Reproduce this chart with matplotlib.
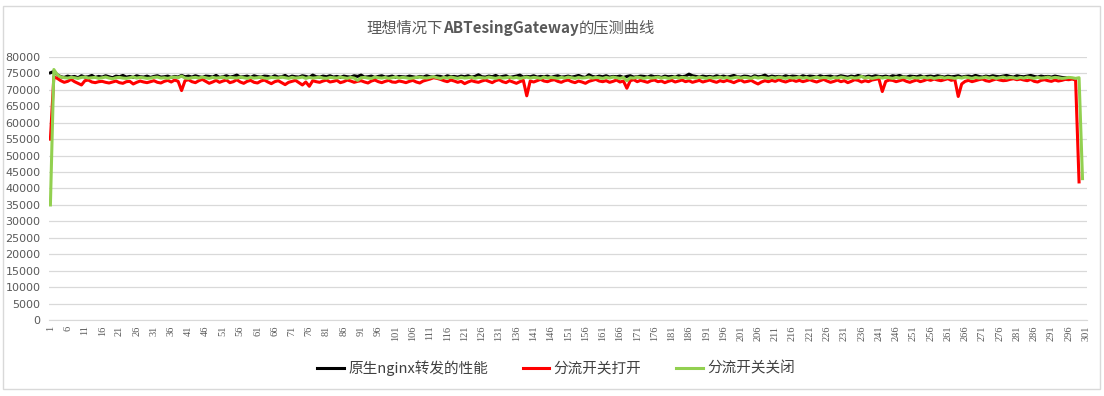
import numpy as np
import matplotlib
matplotlib.use("Agg")
import matplotlib.pyplot as plt
from matplotlib.patches import Rectangle

plt.rcParams['font.family'] = ['Noto Sans CJK SC', 'DejaVu Sans']

# données (requêtes/s)
nginx = [
    75200, 75600, 74600, 74000, 73800, 74200, 73900, 74100, 73700, 74300, 73900, 74000, 74400, 73800, 74100, 73900, 74300, 74000, 73700, 74200,
    74000, 74400, 73900, 74100, 73800, 74300, 74000, 73900, 74200, 73800, 74100, 74300, 73900, 74000, 74200, 73800, 74100, 73900, 74400, 74000,
    74200, 73900, 74300, 74000, 73800, 74200, 74100, 73900, 74400, 73800, 74000, 74300, 73900, 74100, 74500, 73900, 74000, 74200, 73800, 74300,
    74000, 73900, 74200, 74100, 73800, 74300, 73900, 74000, 74400, 73800, 74200, 74000, 73900, 74300, 74100, 73800, 74500, 74000, 73900, 74200,
    74000, 74300, 73900, 74100, 73800, 74200, 74000, 73900, 74300, 74100, 74500, 73900, 74000, 74200, 73800, 74100, 74300, 73900, 74000, 74200,
    73800, 74100, 74000, 73900, 74200, 74000, 73800, 74100, 73900, 74300, 74000, 73900, 74200, 74100, 73800, 74300, 74000, 74100, 73900, 74200,
    74000, 74300, 73900, 74100, 74600, 74000, 73900, 74200, 74000, 74400, 73900, 74100, 74300, 73800, 74000, 74200, 74500, 73900, 74100, 74000,
    74300, 73900, 74100, 74000, 74200, 73800, 74100, 74300, 73900, 74000, 74200, 73900, 74100, 74400, 74000, 73800, 74600, 74100, 73900, 74200,
    74000, 74300, 73900, 74100, 74000, 74200, 73800, 74100, 74300, 73900, 74000, 74200, 74100, 73900, 74300, 74000, 74100, 73800, 74200, 74000,
    74100, 73900, 74300, 74000, 74200, 74800, 74300, 74100, 73900, 74200, 74000, 74100, 73900, 74300, 74000, 74200, 73900, 74100, 74400, 74000,
    73900, 74200, 74100, 73800, 74300, 74000, 74100, 74500, 73900, 74200, 74000, 74100, 73900, 74300, 74000, 74200, 74100, 73900, 74300, 74000,
    74200, 74100, 73900, 74300, 74000, 74100, 74200, 73900, 74000, 74300, 74100, 73900, 74200, 74000, 74400, 74100, 73900, 74200, 74000, 74300,
    74100, 74000, 74200, 73900, 74300, 74100, 74400, 74000, 73900, 74200, 74100, 74000, 74300, 73900, 74100, 74200, 74000, 74300, 74100, 73900,
    74200, 74000, 74100, 74300, 73900, 74100, 74200, 74000, 74400, 74100, 73900, 74200, 74000, 74300, 74100, 74000, 74200, 74400, 74100, 73900,
    74300, 74100, 74000, 74200, 74400, 74100, 73900, 74200, 74000, 74100, 73900, 74200, 74000, 73800, 73700, 73500,
]

ouvert = [
    55000, 74000, 73500, 72800, 72300, 72600, 73200, 72500, 72000, 71500, 72800, 73000, 72400, 72200, 72500, 72600, 72300, 72100, 72400, 72700,
    72200, 72000, 72500, 72600, 71800, 72300, 72700, 72400, 72200, 72500, 72800, 72300, 72100, 72600, 72900, 72400, 73000, 72600, 69800, 72800,
    73100, 72500, 72200, 72800, 73200, 72600, 72000, 72400, 72900, 72300, 72700, 73000, 72200, 72500, 73100, 72400, 72000, 72600, 72900, 72300,
    72100, 72700, 73000, 72400, 71900, 72500, 72800, 72200, 71600, 72300, 72600, 72900, 72200, 71500, 72400, 71100, 72800, 72500, 72300, 72700,
    73000, 72400, 72600, 72900, 72200, 72500, 73000, 72700, 72300, 72600, 72800, 72400, 72100, 72700, 73000, 72500, 72200, 72600, 72900, 72400,
    72300, 72700, 72500, 72200, 72600, 72900, 72400, 72100, 72700, 73000, 73300, 73700, 73500, 73200, 72800, 72500, 73000, 72700, 72300, 72600,
    71900, 72400, 72800, 72500, 72300, 72700, 73000, 72600, 72200, 72800, 73100, 72500, 72200, 72800, 72400, 72000, 72500, 72900, 68200, 72700,
    72400, 72800, 73200, 72700, 72500, 72900, 73100, 72600, 72300, 72800, 73000, 72500, 72200, 72700, 72400, 72000, 72600, 72900, 73200, 72700,
    72500, 72800, 72300, 72600, 73000, 72400, 72700, 70500, 72800, 73100, 72500, 72900, 72600, 72300, 72800, 73000, 72500, 72700, 72200, 72600,
    72900, 72400, 72700, 73000, 72500, 72800, 72300, 72600, 72900, 72400, 72700, 73000, 72600, 72300, 72800, 72500, 72900, 72600, 72200, 72700,
    73000, 72400, 72600, 72900, 72300, 71800, 72400, 72800, 72500, 72900, 72600, 73100, 72700, 72400, 72800, 73000, 72600, 72900, 72500, 72800,
    73100, 72700, 72400, 72800, 73200, 72700, 72300, 72600, 73000, 72500, 72800, 72200, 72600, 73100, 72900, 72400, 72800, 72500, 73000, 73200,
    73400, 69500, 72600, 73000, 72900, 72500, 72800, 73100, 72600, 72300, 72700, 73000, 72500, 72800, 73200, 72900, 73300, 73000, 72800, 73100,
    73400, 72900, 73200, 68000, 71800, 72600, 72900, 72500, 72800, 73100, 73300, 72800, 72600, 73000, 73300, 73000, 72800, 72900, 73200, 73400,
    73100, 73300, 73000, 72800, 73200, 72600, 72400, 72900, 73100, 72800, 72600, 73000, 72700, 72900, 73200, 73100, 73300, 73000, 42000,
]

ferme = [
    35000, 76200, 74600, 73900, 73700, 73600, 73800, 73700, 73500, 73800, 73900, 73600, 73700, 73800, 73500, 73700, 73900, 73600, 73400, 73700,
    73800, 73600, 73500, 73700, 73900, 73600, 73800, 73700, 73500, 73600, 73800, 73900, 73600, 73700, 73500, 73800, 73900, 73700, 74200, 73600,
    73500, 73700, 73800, 73600, 73900, 73700, 73500, 73800, 73600, 73700, 73900, 73500, 73800, 73700, 73600, 73900, 73700, 73500, 73800, 73600,
    73700, 73900, 73600, 73500, 73800, 73700, 73600, 73900, 73700, 73500, 73800, 73600, 73700, 73900, 73500, 73800, 73600, 73700, 73900, 73600,
    73500, 73800, 73700, 73600, 73900, 73700, 73500, 73800, 73600, 72900, 73700, 73800, 73600, 73500, 73900, 73700, 73600, 73800, 73500, 73700,
    73900, 73600, 73800, 73700, 73500, 73600, 73800, 73900, 73700, 73600, 73800, 74000, 73700, 73500, 73800, 73600, 73900, 73700, 73500, 73800,
    73600, 73700, 73900, 73500, 73800, 73700, 73600, 73900, 73700, 73500, 73800, 73600, 73700, 73900, 73600, 73800, 73500, 73700, 73900, 73600,
    73800, 73700, 73500, 73900, 73600, 73800, 73700, 73500, 73800, 73600, 73900, 73700, 73500, 73800, 73600, 73700, 73900, 73600, 73800, 73700,
    73500, 73800, 73600, 73900, 73700, 73500, 73800, 72800, 73700, 73600, 73900, 73700, 73500, 73800, 73600, 73700, 73900, 73600, 73800, 73500,
    73700, 73900, 73600, 73800, 73700, 73500, 73800, 73600, 73900, 73700, 73500, 73800, 73600, 73700, 73900, 73600, 73800, 73500, 73700, 73900,
    73600, 73800, 73700, 73500, 73900, 73600, 73800, 73700, 73500, 73800, 73600, 73900, 73700, 73500, 73800, 73600, 73700, 73900, 73600, 73800,
    73500, 73700, 73900, 73600, 73800, 73700, 73500, 73800, 73600, 73900, 73700, 73500, 73800, 73600, 73700, 74100, 73600, 73800, 73500, 73700,
    73900, 73600, 73800, 73700, 73500, 73800, 73600, 73900, 73700, 73500, 73800, 73600, 73700, 73900, 73600, 73800, 73500, 73700, 73900, 73600,
    73800, 73700, 73500, 73800, 73600, 73900, 73700, 73500, 73800, 73600, 73700, 73900, 73600, 73800, 73500, 73700, 73900, 73600, 73800, 73700,
    73500, 73800, 73600, 73900, 73700, 73500, 73800, 73600, 73700, 73900, 73600, 73800, 73700, 73500, 73600, 73800, 73700, 73500, 73700, 43000,
]

legendes = ["原生nginx转发的性能", "分流开关打开", "分流开关关闭"]
couleurs = ["#000000", "#FF0000", "#92D050"]
titre = [("理想情况下", "normal"), ("ABTesingGateway", "bold"), ("的压测曲线", "normal")]

n_cat = 301
xticks = np.arange(1, n_cat + 1, 5)
yticks = np.arange(0, 80001, 5000)

#########
# FIGURE
#########
fig = plt.figure(figsize=(11.04, 3.96), dpi=100)
ax = fig.add_axes([0.0444, 0.192, 0.9405, 0.664])

for serie, lab, c in zip([nginx, ouvert, ferme], legendes, couleurs):
    x = np.arange(1, len(serie) + 1)
    ax.plot(x, serie, color=c, lw=2.2, label=lab, solid_joinstyle='round')

ax.set_xlim(0.6, n_cat + 0.4)
ax.set_ylim(0, 80000)
ax.set_yticks(yticks)
ax.set_yticklabels([str(v) for v in yticks], fontsize=8, color="#595959",
                   family=['DejaVu Sans'])
ax.set_xticks(xticks)
ax.set_xticklabels([str(v) for v in xticks], rotation=90, fontsize=7.5,
                   color="#595959", family=['Liberation Serif'])
ax.tick_params(axis='both', length=0, pad=6)
ax.tick_params(axis='x', pad=4)
ax.grid(axis='y', color="#d9d9d9", lw=0.9)
ax.set_axisbelow(True)
for s in ['top', 'right', 'left']:
    ax.spines[s].set_visible(False)
ax.spines['bottom'].set_color("#d9d9d9")

ax.legend(loc='center', bbox_to_anchor=(556 / 1104, 1 - 368 / 396), bbox_transform=fig.transFigure,
          ncol=3, frameon=False, fontsize=10.5, handlelength=1.8, handletextpad=0.3,
          columnspacing=2.4, labelcolor="#404040")

# titre en trois morceaux (partie latine en gras)
renderer = fig.canvas.get_renderer()
morceaux = []
for txt, w in titre:
    t = fig.text(0, 1 - 28 / 396, txt, fontsize=11, weight=w, color="#595959",
                 va='center', ha='left')
    morceaux.append(t)
largeurs = [t.get_window_extent(renderer).width / fig.bbox.width for t in morceaux]
x0 = 511 / 1104 - sum(largeurs) / 2
for t, w in zip(morceaux, largeurs):
    t.set_x(x0)
    x0 += w

# cadre du graphique
fig.patches.append(Rectangle((0.003, 0.018), 0.993, 0.968, transform=fig.transFigure,
                             fill=False, ec="#d9d9d9", lw=1))

fig.savefig("out.png", dpi=100)
